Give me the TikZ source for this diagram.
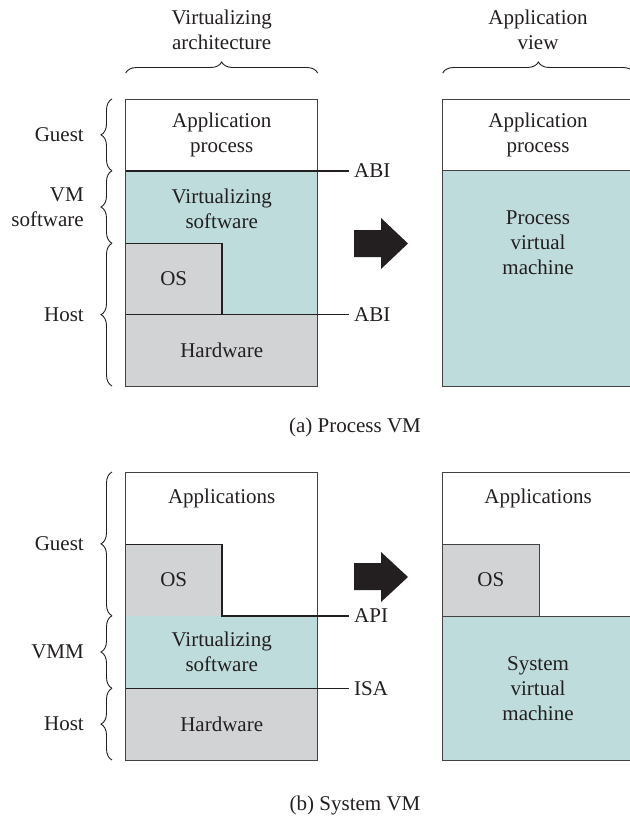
\documentclass[tikz,border=0pt]{standalone}
\usepackage{fontspec}
\setmainfont{Liberation Serif}
\usetikzlibrary{decorations.pathreplacing}
\definecolor{vmteal}{RGB}{190,220,220}
\definecolor{hwgray}{RGB}{209,211,212}
\definecolor{ink}{RGB}{35,31,32}
\begin{document}
\begin{tikzpicture}[x=1pt,y=-1pt,
  font=\fontsize{21}{25}\selectfont, text=ink,
  box/.style={draw=ink!85,line width=1pt},
  layer/.style={draw=ink,line width=1.6pt},
  lbl/.style={align=center,inner sep=0pt},
  iface/.style={anchor=west,inner sep=5pt},
  side/.style={anchor=east,align=right,inner sep=0pt},
  brc/.style={draw=ink,line width=0.9pt,decorate,decoration={brace,amplitude=11pt}},
  bigarrow/.style={fill=ink}]
\useasboundingbox (0,0) rectangle (629,819);

\node[lbl] (hdarch) at (221.7,29.5) {Virtualizing\\architecture};
\node[lbl] (hdview) at (538,29.5) {Application\\view};
\draw[brc] (125.7,73) -- (317.7,73);
\draw[brc] (442.7,73) -- (634,73);

\fill[vmteal] (125.7,170.7) -- (317.7,170.7) -- (317.7,314.3) -- (221.7,314.3) -- (221.7,243.3) -- (125.7,243.3) -- cycle;
\fill[hwgray] (125.7,243.3) rectangle (221.7,314.3);
\fill[hwgray] (125.7,314.3) rectangle (317.7,386);
\draw[box] (125.7,99) rectangle (317.7,386);
\draw[layer] (125.7,243.3) -- (221.7,243.3) -- (221.7,314.3);
\coordinate (abiA0) at (125.7,170.7);
\coordinate (abiB0) at (125.7,314.3);
\node[iface] (abiA) at (349,170.7) {ABI};
\node[iface] (abiB) at (349,314.3) {ABI};
\draw[layer] (abiA0) -- (abiA.west);
\draw[layer] (abiB0) -- (abiB.west);

\node[lbl] (appA) at (221.7,135) {Application\\process};
\node[lbl] (virtA) at (221.7,209) {Virtualizing\\software};
\node[lbl] (osA) at (173.7,278.8) {OS};
\node[lbl] (hwA) at (221.7,350) {Hardware};

\draw[brc] (112,170.7) -- (112,99);
\draw[brc] (112,243.3) -- (112,170.7);
\draw[brc] (112,386) -- (112,243.3);
\node[side] (guestA) at (84,134.8) {Guest};
\node[side] (vmswA) at (84,207) {VM\\software};
\node[side] (hostA) at (84,314.6) {Host};

\fill[bigarrow] (354,230) -- (381,230) -- (381,218) -- (408,243.5) -- (381,269) -- (381,257) -- (354,257) -- cycle;

\fill[vmteal] (442.7,170.7) rectangle (634,386);
\draw[box] (442.7,99) rectangle (634,386);
\draw[box] (442.7,170.7) -- (634,170.7);
\node[lbl] (appR) at (538,135) {Application\\process};
\node[lbl] (pvm) at (538,242.5) {Process\\virtual\\machine};

\node[lbl] (capA) at (355,427) {(a) Process VM};

\fill[hwgray] (125.7,544.3) rectangle (221.7,615.7);
\fill[vmteal] (125.7,615.7) rectangle (317.7,688.3);
\fill[hwgray] (125.7,688.3) rectangle (317.7,760);
\draw[box] (125.7,472) rectangle (317.7,760);
\coordinate (apiC0) at (125.7,544.3);
\coordinate (isaC0) at (125.7,688.3);
\node[iface] (apiC) at (349,615.7) {API};
\node[iface] (isaC) at (349,688.3) {ISA};
\draw[layer] (apiC0) -- (221.7,544.3) -- (221.7,615.7) -- (apiC.west);
\draw[layer] (isaC0) -- (isaC.west);

\node[lbl] (appsC) at (221.7,498) {Applications};
\node[lbl] (osC) at (173.7,580) {OS};
\node[lbl] (virtC) at (221.7,652) {Virtualizing\\software};
\node[lbl] (hwC) at (221.7,724) {Hardware};

\draw[brc] (112,615.7) -- (112,472);
\draw[brc] (112,688.3) -- (112,615.7);
\draw[brc] (112,760) -- (112,688.3);
\node[side] (guestC) at (84,543.8) {Guest};
\node[side] (vmmC) at (84,652) {VMM};
\node[side] (hostC) at (84,724) {Host};

\fill[bigarrow] (354,563) -- (381,563) -- (381,552) -- (408,577) -- (381,602) -- (381,590) -- (354,590) -- cycle;

\fill[hwgray] (442.7,544.3) rectangle (539,616.7);
\fill[vmteal] (442.7,616.7) rectangle (634,760);
\draw[box] (442.7,472) rectangle (634,760);
\draw[box] (442.7,544.3) -- (539,544.3) -- (539,616.7);
\draw[box] (442.7,616.7) -- (634,616.7);
\node[lbl] (appsR) at (538,498) {Applications};
\node[lbl] (osR) at (490.8,580) {OS};
\node[lbl] (svm) at (538,688.5) {System\\virtual\\machine};

\node[lbl] (capB) at (355,805) {(b) System VM};
\end{tikzpicture}
\end{document}
